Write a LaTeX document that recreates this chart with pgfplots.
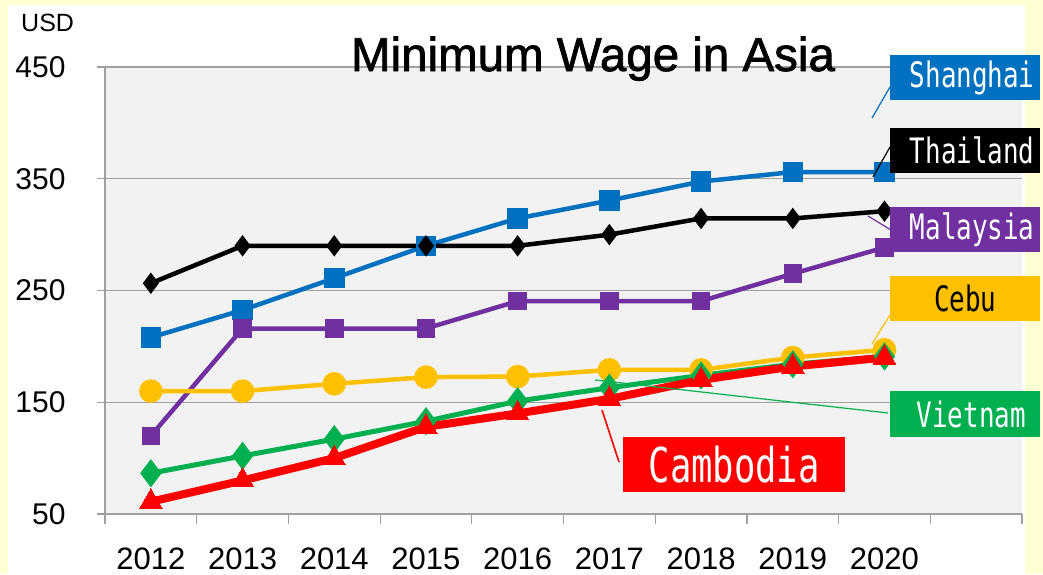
\documentclass[border=0pt]{standalone}
\usepackage{pgfplots}
\pgfplotsset{compat=1.18}
\usepackage{fontspec}
\setmainfont{Liberation Sans}
\newfontfamily\titlefont[FakeBold=1.6]{Liberation Sans}
\newfontfamily\boxfont[FakeStretch=0.74]{DejaVu Sans Mono}
\definecolor{bgyellow}{RGB}{255,255,210}
\definecolor{plotgray}{RGB}{242,242,242}
\definecolor{gridgray}{RGB}{160,160,160}
\definecolor{cblue}{RGB}{0,112,192}
\definecolor{cpurple}{RGB}{112,48,160}
\definecolor{cyellow}{RGB}{255,192,0}
\definecolor{cgreen}{RGB}{0,176,80}
\definecolor{cred}{RGB}{255,0,0}
\begin{document}
\begin{tikzpicture}[x=1pt,y=-1pt]
\fill[bgyellow] (0,0) rectangle (1043,574);
\fill[white] (8,5) rectangle (1025,574);
\begin{axis}[
  at={(105pt,-514pt)}, anchor=south west,
  scale only axis, width=917pt, height=447pt,
  xmin=-0.5, xmax=9.5, ymin=50, ymax=450,
  axis background/.style={fill=plotgray},
  axis x line*=bottom, axis y line*=left,
  axis line style={gridgray, line width=1.2pt, -},
  xtick={0,...,8},
  xticklabels={2012,2013,2014,2015,2016,2017,2018,2019,2020},
  major x tick style={draw=none},
  minor xtick={-0.5,0.5,...,9.5},
  minor x tick style={gridgray, line width=1.2pt},
  minor tick length=10pt,
  ytick={50,150,250,350,450},
  ymajorgrids,
  major grid style={gridgray, line width=1.2pt},
  major y tick style={gridgray, line width=1.2pt},
  major tick length=8pt,
  tick align=outside,
  x tick label style={font=\fontsize{31}{31}\selectfont, yshift=-22pt},
  y tick label style={font=\fontsize{30}{30}\selectfont, xshift=-28pt},
  /pgf/number format/assume math mode=true,
  clip=false,
]
\addplot[cblue, line width=4.5pt, mark=square*, mark size=8pt, mark options={solid}] coordinates {
(0,208) (1,232.5) (2,261) (3,290) (4,314.5) (5,330.5) (6,347.5) (7,356) (8,356)};
\addplot[black, line width=4.5pt, mark=diamond*, mark size=7pt] coordinates {
(0,256.5) (1,290) (2,290) (3,290) (4,290) (5,300) (6,314.5) (7,314.5) (8,321)};
\addplot[cpurple, line width=4.5pt, mark=square*, mark size=7pt] coordinates {
(0,120) (1,216) (2,216) (3,216) (4,240.5) (5,240.5) (6,240.5) (7,265) (8,288.5)};
\addplot[cyellow, line width=4.5pt, mark=*, mark size=9.5pt] coordinates {
(0,160) (1,160) (2,166.5) (3,172.5) (4,173) (5,179) (6,179) (7,190) (8,197)};
\addplot[cgreen, line width=5pt, mark=diamond*, mark size=10pt] coordinates {
(0,86.5) (1,102) (2,117) (3,133) (4,151) (5,163) (6,174) (7,184) (8,191)};
\addplot[cred, line width=8pt, mark=triangle*, mark size=13pt, mark options={line width=0pt}] coordinates {
(0,61) (1,80) (2,100) (3,128) (4,140) (5,153) (6,170) (7,182) (8,190)};
\end{axis}
% title and unit
\node[anchor=base, inner sep=0] at (593,71) {\fontsize{47.5}{47.5}\titlefont Minimum Wage in Asia};
\node[anchor=west, inner sep=0] at (21,23) {\fontsize{25}{25}\selectfont USD};
% leader lines
\draw[cblue, line width=1.2pt] (890,87) -- (872,118);
\draw[black, line width=1.2pt] (890,147) -- (873,177);
\draw[cpurple, line width=1.2pt] (891,230) -- (868,216);
\draw[cyellow, line width=1.2pt] (890,315) -- (872,344);
\draw[cgreen, line width=1.2pt] (888,413) -- (595,380);
\draw[cred, line width=1.6pt] (619,462) -- (602,410);
% label boxes
\node[fill=cblue, text=white, minimum width=150pt, minimum height=45pt, inner sep=0, anchor=west] at (890,77.5) {\fontsize{35}{35}\boxfont\hspace*{14pt}Shanghai};
\node[fill=black, text=white, minimum width=150pt, minimum height=45pt, inner sep=0, anchor=west] at (890,150.5) {\fontsize{35}{35}\boxfont\hspace*{14pt}Thailand};
\node[fill=cpurple, text=white, minimum width=150pt, minimum height=45pt, inner sep=0, anchor=west] at (890,229.5) {\fontsize{35}{35}\boxfont\hspace*{14pt}Malaysia};
\node[fill=cyellow, text=black, minimum width=150pt, minimum height=45pt, inner sep=0, anchor=west] at (890,298.5) {\fontsize{35}{35}\boxfont Cebu};
\node[fill=cgreen, text=white, minimum width=150pt, minimum height=46pt, inner sep=0, anchor=west] at (890,414) {\fontsize{35}{35}\boxfont\hspace*{12pt}Vietnam};
\node[fill=cred, text=white, minimum width=222pt, minimum height=55pt, inner sep=0, anchor=west] at (623,464.5) {\fontsize{48}{48}\boxfont Cambodia};
\end{tikzpicture}
\end{document}
